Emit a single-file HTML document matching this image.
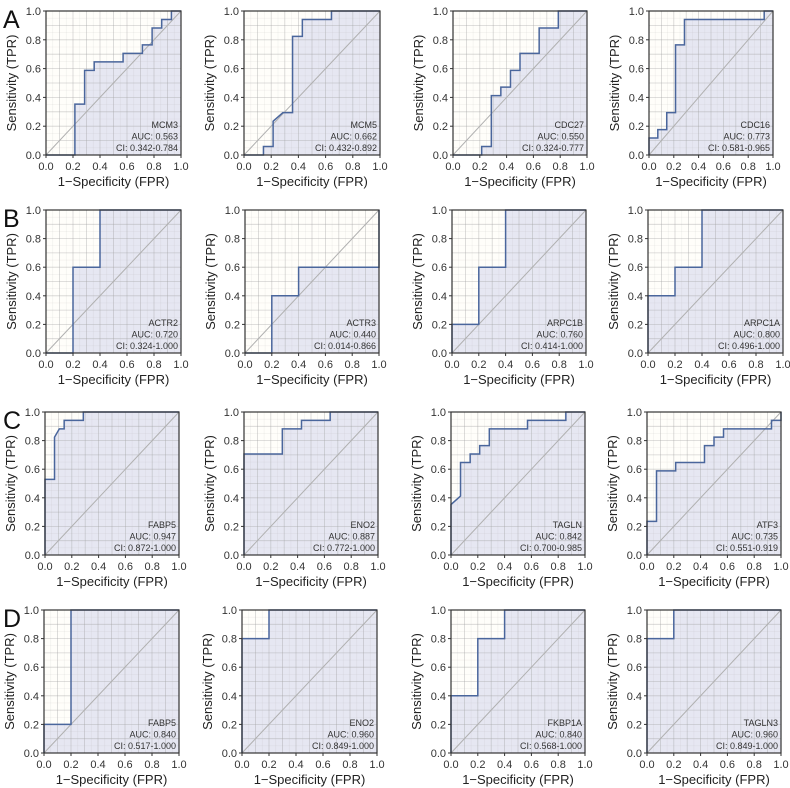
<!DOCTYPE html>
<html><head><meta charset="utf-8"><style>
html,body{margin:0;padding:0;background:#fff;}
svg{display:block;font-family:"Liberation Sans",sans-serif;}
</style></head><body>
<svg id="fig" width="790" height="788" viewBox="0 0 790 788" xmlns="http://www.w3.org/2000/svg"></svg>
<script>
const panelNames = ["MCM3","MCM5","CDC27","CDC16","ACTR2","ACTR3","ARPC1B","ARPC1A","FABP5","ENO2","TAGLN","ATF3","FABP5","ENO2","FKBP1A","TAGLN3"];
const aucValues = ["0.563","0.662","0.550","0.773","0.720","0.440","0.760","0.800","0.947","0.887","0.842","0.735","0.840","0.960","0.840","0.960"];
const ciValues = ["0.342-0.784","0.432-0.892","0.324-0.777","0.581-0.965","0.324-1.000","0.014-0.866","0.414-1.000","0.496-1.000","0.872-1.000","0.772-1.000","0.700-0.985","0.551-0.919","0.517-1.000","0.849-1.000","0.568-1.000","0.849-1.000"];
const fprSeries = [
 [0,0.214,0.214,0.286,0.286,0.357,0.357,0.571,0.571,0.714,0.714,0.786,0.786,0.857,0.857,0.929,0.929,1],
 [0,0.143,0.143,0.214,0.214,0.286,0.357,0.357,0.429,0.429,0.643,0.643,1],
 [0,0.214,0.214,0.286,0.286,0.357,0.357,0.429,0.429,0.5,0.5,0.643,0.643,0.786,0.786,1],
 [0,0,0.071,0.071,0.143,0.143,0.214,0.214,0.286,0.286,0.929,0.929,1],
 [0,0.2,0.2,0.4,0.4,1],
 [0,0.2,0.2,0.4,0.4,1,1],
 [0,0,0.2,0.2,0.4,0.4,1],
 [0,0,0.2,0.2,0.4,0.4,1],
 [0,0,0.071,0.071,0.107,0.143,0.143,0.286,0.286,1],
 [0,0,0.286,0.286,0.429,0.429,0.643,0.643,1],
 [0,0,0.071,0.071,0.143,0.143,0.214,0.214,0.286,0.286,0.571,0.571,0.857,0.857,1],
 [0,0,0.071,0.071,0.214,0.214,0.429,0.429,0.5,0.5,0.571,0.571,0.929,0.929,1,1],
 [0,0,0.2,0.2,1],
 [0,0,0.2,0.2,1],
 [0,0,0.2,0.2,0.4,0.4,1],
 [0,0,0.2,0.2,1]
];
const tprSeries = [
 [0,0,0.353,0.353,0.588,0.588,0.647,0.647,0.706,0.706,0.765,0.765,0.882,0.882,0.941,0.941,1,1],
 [0,0,0.059,0.059,0.235,0.294,0.294,0.824,0.824,0.941,0.941,1,1],
 [0,0,0.059,0.059,0.412,0.412,0.471,0.471,0.588,0.588,0.706,0.706,0.882,0.882,1,1],
 [0,0.118,0.118,0.176,0.176,0.294,0.294,0.765,0.765,0.941,0.941,1,1],
 [0,0,0.6,0.6,1,1],
 [0,0,0.4,0.4,0.6,0.6,1],
 [0,0.2,0.2,0.6,0.6,1,1],
 [0,0.4,0.4,0.6,0.6,1,1],
 [0,0.529,0.529,0.824,0.882,0.882,0.941,0.941,1,1],
 [0,0.706,0.706,0.882,0.882,0.941,0.941,1,1],
 [0,0.353,0.412,0.647,0.647,0.706,0.706,0.765,0.765,0.882,0.882,0.941,0.941,1,1],
 [0,0.235,0.235,0.588,0.588,0.647,0.647,0.765,0.765,0.824,0.824,0.882,0.882,0.941,0.941,1],
 [0,0.2,0.2,1,1],
 [0,0.8,0.8,1,1],
 [0,0.4,0.4,0.8,0.8,1,1],
 [0,0.8,0.8,1,1]
];
const tickLabels = ["0.0","0.2","0.4","0.6","0.8","1.0"];
const rowLetters = ["A","B","C","D"];

const rowBox = [[11,155],[210,353],[412,555],[610,753]];
const colBox = [
 [[46,181],[244,380],[453,587],[649,773]],
 [[46,181],[245,379],[452,586],[648,783]],
 [[45,179],[244,378],[451,585],[647,781]],
 [[44,179],[242,377],[451,585],[647,781]]
];
const NS="http://www.w3.org/2000/svg";
const svg=document.getElementById('fig');
function mk(tag,attrs,parent){const e=document.createElementNS(NS,tag);for(const k in attrs)e.setAttribute(k,attrs[k]);(parent||svg).appendChild(e);return e;}

for(let r=0;r<4;r++){
  const L=mk('text',{x:3,y:rowBox[r][0]+17,'font-size':25,fill:'#111'});
  L.textContent=rowLetters[r];
  
  
  for(let c=0;c<4;c++){
    const i=r*4+c;
    const x0=colBox[r][c][0],x1=colBox[r][c][1],y0=rowBox[r][0],y1=rowBox[r][1];
    const sx=v=>x0+v*(x1-x0), sy=v=>y1-v*(y1-y0);
    const g=mk('g',{});
    
    
    mk('rect',{x:x0,y:y0,width:x1-x0,height:y1-y0,fill:'#fffefa'},g);
    let pts=fprSeries[i].map((f,k)=>sx(f)+','+sy(tprSeries[i][k]));
    pts.push(sx(1)+','+sy(0));
    const area=mk('polygon',{points:pts.join(' '),fill:'#e6e7f2'},g);
    
    
    for(let k=0;k<=20;k++){
      const v=k/20, major=k%2===0;
      const col=major?'rgba(160,160,160,0.45)':'rgba(180,180,180,0.2)';
      mk('line',{x1:sx(v),x2:sx(v),y1:y0,y2:y1,stroke:col,'stroke-width':major?0.8:0.6},g);
      mk('line',{x1:x0,x2:x1,y1:sy(v),y2:sy(v),stroke:col,'stroke-width':major?0.8:0.6},g);
    }
    const diag=mk('line',{x1:sx(0),y1:sy(0),x2:sx(1),y2:sy(1),stroke:'#b0b0b0','stroke-width':1},g);
    
    
    const curve=mk('polyline',{points:fprSeries[i].map((f,k)=>sx(f)+','+sy(tprSeries[i][k])).join(' '),fill:'none',stroke:'#4a669c','stroke-width':1.5},g);
    
    
    mk('rect',{x:x0,y:y0,width:x1-x0,height:y1-y0,fill:'none',stroke:'#333','stroke-width':1.2},g);
    tickLabels.forEach((t,k)=>{
      const v=k/5;
      mk('line',{x1:sx(v),x2:sx(v),y1:y1,y2:y1+3,stroke:'#333','stroke-width':1},g);
      mk('line',{x1:x0-3,x2:x0,y1:sy(v),y2:sy(v),stroke:'#333','stroke-width':1},g);
      const tx=mk('text',{x:sx(v),y:y1+15,'font-size':11,fill:'#333','text-anchor':'middle'},g);
      tx.textContent=t;
      
      
      const ty=mk('text',{x:x0-5,y:sy(v)+4,'font-size':11,fill:'#333','text-anchor':'end'},g);
      ty.textContent=t;
      
      
    });
    const xl=mk('text',{x:(x0+x1)/2,y:y1+31,'font-size':13,fill:'#222','text-anchor':'middle'},g);
    xl.textContent='1\u2212Specificity (FPR)';
    
    
    const yc=(y0+y1)/2, yx=x0-30;
    const yl=mk('text',{x:yx,y:yc,'font-size':13,fill:'#222','text-anchor':'middle',transform:`rotate(-90 ${yx} ${yc})`},g);
    yl.textContent='Sensitivity (TPR)';
    
    
    const ann=[panelNames[i],'AUC: '+aucValues[i],'CI: '+ciValues[i]];
    ann.forEach((s,k)=>{
      const a=mk('text',{x:x1-3,y:y1-27+k*11.5,'font-size':9,fill:'#333','text-anchor':'end'},g);
      a.textContent=s;
      
      
    });
  }
}
</script>
</body></html>
